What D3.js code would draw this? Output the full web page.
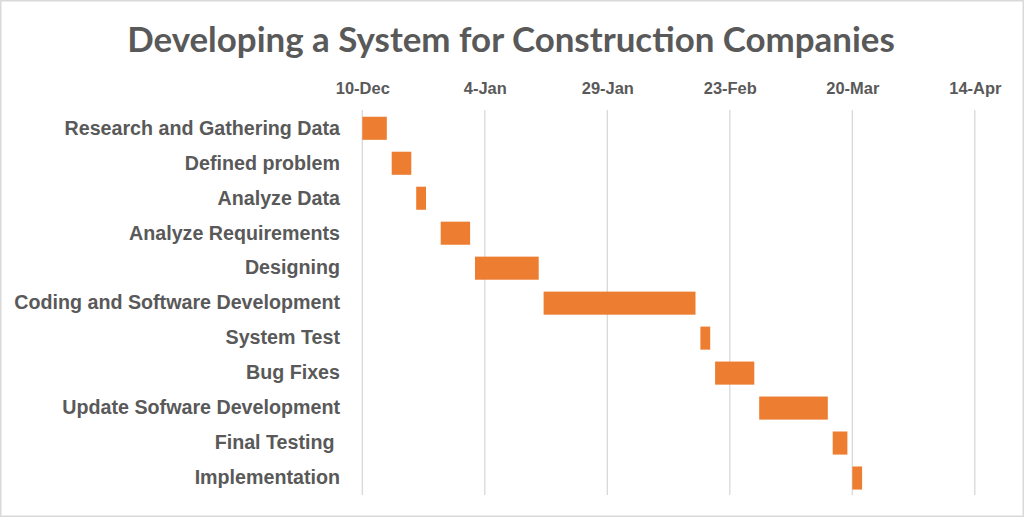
<!DOCTYPE html>
<html><head><meta charset="utf-8">
<script src="https://cdn.jsdelivr.net/npm/d3@7"></script>
<style>
html,body{margin:0;padding:0;background:#fff;}
svg{display:block;font-family:Lato,"Open Sans",sans-serif;}
</style></head>
<body><svg id="c" width="1024" height="517"></svg>
<script>
const title = "Developing a System for Construction Companies";
const tasks = ["Research and Gathering Data","Defined problem","Analyze Data","Analyze Requirements","Designing","Coding and Software Development","System Test","Bug Fixes","Update Sofware Development","Final Testing ","Implementation"];
const startDates = ["2018-12-10","2018-12-16","2018-12-21","2018-12-26","2019-01-02","2019-01-16","2019-02-17","2019-02-20","2019-03-01","2019-03-16","2019-03-20"];
const durations = [5,4,2,6,13,31,2,8,14,3,2];
const tickDates = ["2018-12-10","2019-01-04","2019-01-29","2019-02-23","2019-03-20","2019-04-14"];

const parse = d3.timeParse("%Y-%m-%d");
const svg = d3.select("#c");
const W = 1024, H = 517;
const textColor = "#595959", barColor = "#ED7D31", gridColor = "#D9D9D9";

svg.append("rect").attr("x",0.5).attr("y",0.5).attr("width",W-1).attr("height",H-1)
  .attr("fill","#fff").attr("stroke","#D9D9D9").attr("stroke-width",2);

const x = d3.scaleTime()
  .domain([parse(tickDates[0]), parse(tickDates[tickDates.length-1])])
  .range([362.3, 974.8]);
const y = d3.scaleBand().domain(tasks).range([110.8, 495.5]).paddingInner(0.34).paddingOuter(0.17);

// grid
svg.append("g").selectAll("line").data(tickDates.map(parse)).join("line")
  .attr("x1",d=>x(d)).attr("x2",d=>x(d)).attr("y1",110).attr("y2",495)
  .attr("stroke",gridColor).attr("stroke-width",1.3);

// top axis
const ax = svg.append("g").attr("transform","translate(0,94)")
  .call(d3.axisTop(x).tickValues(tickDates.map(parse)).tickFormat(d3.timeFormat("%-d-%b")).tickSize(0).tickPadding(0));
ax.select(".domain").remove();
const tt = ax.selectAll("text").attr("fill",textColor).style("font-size","15px").style("font-weight","700");
const w0 = tt.nodes()[0].getComputedTextLength();
tt.style("font-size",(15*54/w0)+"px");

// y labels
const ly = svg.append("g").attr("transform","translate(340,0)")
  .call(d3.axisLeft(y).tickSize(0).tickPadding(0));
ly.select(".domain").remove();
const lt = ly.selectAll("text").attr("fill",textColor).style("font-size","18px").style("font-weight","700").style("white-space","pre");
const wl = d3.max(lt.nodes(), n=>n.getComputedTextLength());
lt.style("font-size",(18*326/wl)+"px");

// bars
svg.append("g").selectAll("rect").data(tasks).join("rect")
  .attr("x",(d,i)=>x(parse(startDates[i])))
  .attr("width",(d,i)=>x(d3.timeDay.offset(parse(startDates[i]),durations[i]))-x(parse(startDates[i])))
  .attr("y",d=>y(d)).attr("height",y.bandwidth())
  .attr("fill",barColor);

// title
const t = svg.append("text").attr("x",511).attr("y",52).attr("text-anchor","middle")
  .attr("fill",textColor).style("font-weight","700").style("font-size","32px").text(title);
const tw = t.node().getComputedTextLength();
t.style("font-size",(32*768/tw)+"px");
</script></body></html>
